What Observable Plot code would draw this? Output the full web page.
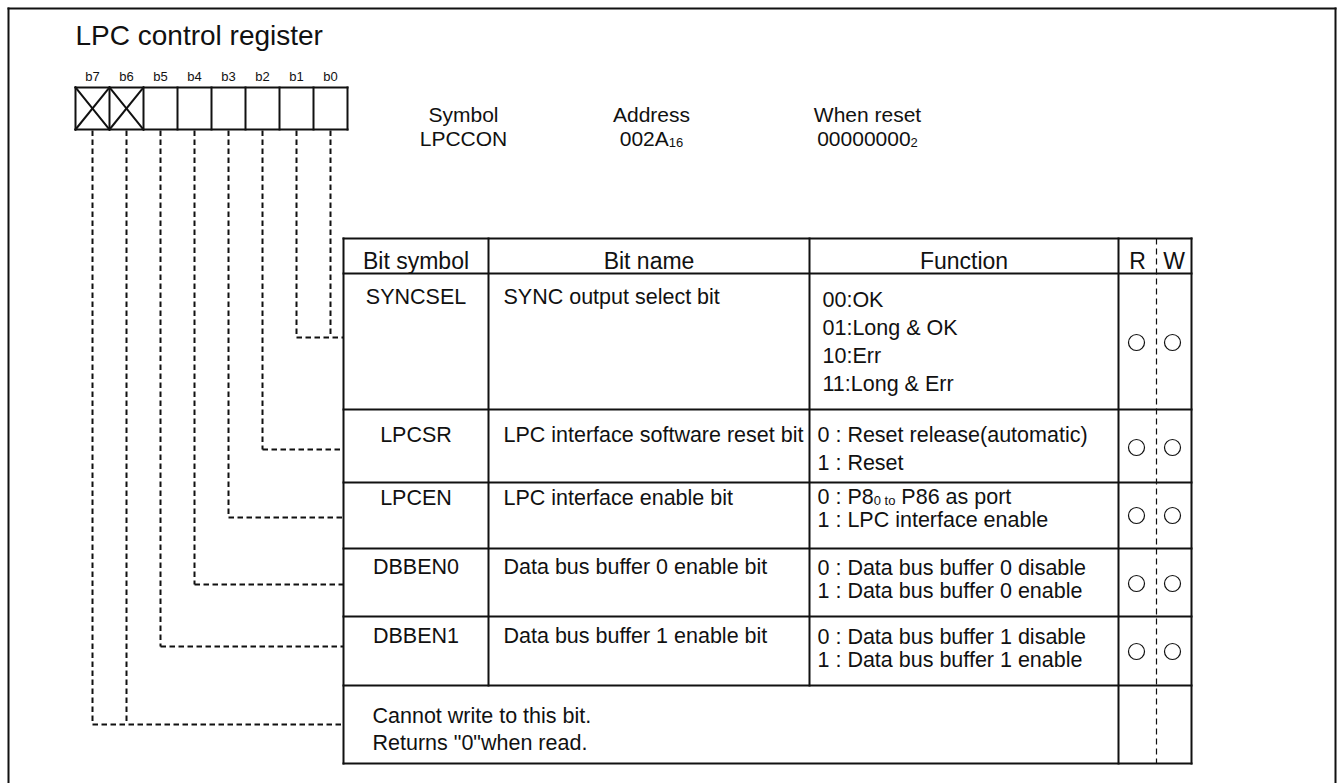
<!DOCTYPE html>
<html><head><meta charset="utf-8">
<script src="https://cdn.jsdelivr.net/npm/d3@7"></script>
<script src="https://cdn.jsdelivr.net/npm/@observablehq/plot@0.6"></script>
<style>html,body{margin:0;padding:0;background:#fff;} svg{display:block}</style>
</head><body><div id="chart"></div>
<script>
// ---------------- data ----------------
const title = "LPC control register";
const bits = ["b7","b6","b5","b4","b3","b2","b1","b0"];
const reservedBits = ["b7","b6"];
const infoHeads = ["Symbol","Address","When reset"];
const infoValues = ["LPCCON","002A","00000000"];
const infoSubs = ["","16","2"];
const headers = ["Bit symbol","Bit name","Function","R","W"];
const symbols = ["SYNCSEL","LPCSR","LPCEN","DBBEN0","DBBEN1",""];
const bitNames = ["SYNC output select bit","LPC interface software reset bit","LPC interface enable bit",
  "Data bus buffer 0 enable bit","Data bus buffer 1 enable bit",""];
// each line: list of [text, isSubscript]
const functions = [
  [[["00:OK"]],[["01:Long & OK"]],[["10:Err"]],[["11:Long & Err"]]],
  [[["0 : Reset release(automatic)"]],[["1 : Reset"]]],
  [[["0 : P8"],["0 to",1],[" P86 as port"]],[["1 : LPC interface enable"]]],
  [[["0 : Data bus buffer 0 disable"]],[["1 : Data bus buffer 0 enable"]]],
  [[["0 : Data bus buffer 1 disable"]],[["1 : Data bus buffer 1 enable"]]],
  []
];
const rowBits = [["b1","b0"],["b2"],["b3"],["b4"],["b5"],["b7","b6"]];
const readable = [1,1,1,1,1,0];
const writable = [1,1,1,1,1,0];
const note = ["Cannot write to this bit.","Returns \"0\"when read."];

// ---------------- layout ----------------
const W = 1339, H = 783;
const FONT = "Liberation Sans, Arial, Helvetica, sans-serif";
const L = {
  frame: {x0: 8, y0: 8, x1: 1335, y1: 800},
  title: {x: 75, y: 36, size: 28},
  box: {x0: 75, w: 34, y0: 87, y1: 129, labelY: 76, labelSize: 13},
  info: {cx: [463, 651, 867], headY: 115, valY: 139, size: 21, subSize: 13},
  cols: [343, 488, 809, 1118, 1156, 1191],
  rows: [238, 273, 409, 482, 548, 616, 685, 763],
  headY: 261, headSize: 23,
  bodySize: 21.5, subSize: 13,
  textY: [297, 435, 498, 567, 636],
  funcY: [[300, 328, 356, 384],[435, 463],[497, 520],[568, 591],[637, 660]],
  funcX: [822, 817, 817, 817, 817],
  nameX: 503,
  noteX: 372, noteY: [716, 743],
  circleY: [342, 447, 515, 583, 651], circleX: [1136, 1172], circleR: 8,
  connY: [337, 449, 517, 584, 646, 724]
};

const ctx = document.createElement("canvas").getContext("2d");
function tw(s, size){ ctx.font = `${size}px "Liberation Sans"`; return ctx.measureText(s).width; }

const textsStart = [], textsMiddle = [];
function rich(parts, x, y, size, subSize, anchor){
  const widths = parts.map(p => tw(p[0], p[1] ? subSize : size));
  const total = d3.sum(widths);
  let cur = anchor === "middle" ? x - total/2 : x;
  parts.forEach((p, i) => {
    const s = p[1] ? subSize : size;
    const lead = p[0].length - p[0].trimStart().length;
    const lx = cur + (lead ? tw(p[0].slice(0, lead), s) : 0);
    const yy = p[1] ? y + 0.32*size + 1 - 0.32*s : y;
    textsStart.push({x: lx, y: yy, text: p[0].trim(), size: s});
    cur += widths[i];
  });
}

// ---------- segments ----------
const solid = [], dashed = [], thin = [];
const F = L.frame;
solid.push({x1:F.x0,y1:F.y0,x2:F.x1,y2:F.y0},{x1:F.x0,y1:F.y0,x2:F.x0,y2:F.y1},{x1:F.x1,y1:F.y0,x2:F.x1,y2:F.y1});

// bit boxes
const B = L.box;
const bx = b => B.x0 + bits.indexOf(b)*B.w;
solid.push({x1:B.x0,y1:B.y0,x2:B.x0+bits.length*B.w,y2:B.y0});
solid.push({x1:B.x0,y1:B.y1,x2:B.x0+bits.length*B.w,y2:B.y1});
for (let i = 0; i <= bits.length; i++) solid.push({x1:B.x0+i*B.w,y1:B.y0,x2:B.x0+i*B.w,y2:B.y1});
reservedBits.forEach(b => {
  const x = bx(b);
  solid.push({x1:x,y1:B.y0,x2:x+B.w,y2:B.y1},{x1:x,y1:B.y1,x2:x+B.w,y2:B.y0});
});
bits.forEach(b => textsMiddle.push({x: bx(b)+B.w/2, y: B.labelY, text: b, size: B.labelSize}));

// table
const C = L.cols, R = L.rows;
const tTop = R[0], tBottom = R[R.length-1], lastTop = R[R.length-2];
R.forEach(y => solid.push({x1:C[0],y1:y,x2:C[5],y2:y}));
solid.push({x1:C[0],y1:tTop,x2:C[0],y2:tBottom});
solid.push({x1:C[5],y1:tTop,x2:C[5],y2:tBottom});
solid.push({x1:C[3],y1:tTop,x2:C[3],y2:tBottom});
solid.push({x1:C[1],y1:tTop,x2:C[1],y2:lastTop});
solid.push({x1:C[2],y1:tTop,x2:C[2],y2:lastTop});
thin.push({x1:C[4],y1:tTop,x2:C[4],y2:tBottom});

// connectors
rowBits.forEach((bs, i) => {
  const y = L.connY[i];
  const xs = bs.map(b => bx(b) + B.w/2);
  xs.forEach(x => dashed.push({x1:x,y1:B.y1+1,x2:x,y2:y}));
  dashed.push({x1:d3.min(xs),y1:y,x2:C[0],y2:y});
});

// texts
textsStart.push({x: L.title.x, y: L.title.y, text: title, size: L.title.size});
infoHeads.forEach((h, i) => textsMiddle.push({x: L.info.cx[i], y: L.info.headY, text: h, size: L.info.size}));
infoValues.forEach((v, i) => rich(infoSubs[i] ? [[v],[infoSubs[i],1]] : [[v]], L.info.cx[i], L.info.valY, L.info.size, L.info.subSize, "middle"));

const hc = [(C[0]+C[1])/2, (C[1]+C[2])/2, (C[2]+C[3])/2, (C[3]+C[4])/2, (C[4]+C[5])/2];
headers.forEach((h, i) => textsMiddle.push({x: hc[i], y: L.headY, text: h, size: L.headSize}));
symbols.forEach((s, i) => { if (s) textsMiddle.push({x: hc[0], y: L.textY[i], text: s, size: L.bodySize}); });
bitNames.forEach((s, i) => { if (s) textsStart.push({x: L.nameX, y: L.textY[i], text: s, size: L.bodySize}); });
functions.forEach((lines, i) => lines.forEach((parts, j) =>
  rich(parts, L.funcX[i], L.funcY[i][j], L.bodySize, L.subSize, "start")));
note.forEach((s, j) => textsStart.push({x: L.noteX, y: L.noteY[j], text: s, size: L.bodySize}));

const circles = [];
readable.forEach((r, i) => { if (r) circles.push({x: L.circleX[0], y: L.circleY[i]}); });
writable.forEach((w, i) => { if (w) circles.push({x: L.circleX[1], y: L.circleY[i]}); });

const plot = Plot.plot({
  width: W, height: H,
  marginTop: 0, marginRight: 0, marginBottom: 0, marginLeft: 0,
  x: {domain: [0, W], range: [0, W], axis: null},
  y: {domain: [0, H], range: [0, H], axis: null},
  style: {background: "#fff", fontFamily: FONT},
  marks: [
    Plot.link(solid, {x1:"x1", y1:"y1", x2:"x2", y2:"y2", stroke:"#111", strokeWidth: 2, strokeLinecap: "square"}),
    Plot.link(dashed, {x1:"x1", y1:"y1", x2:"x2", y2:"y2", stroke:"#111", strokeWidth: 2, strokeDasharray: "5.5,3.5"}),
    Plot.link(thin, {x1:"x1", y1:"y1", x2:"x2", y2:"y2", stroke:"#111", strokeWidth: 1.2, strokeDasharray: "6,4"}),
    Plot.dot(circles, {x:"x", y:"y", r: L.circleR, stroke:"#111", strokeWidth: 1.2, fill: "none"}),
    Plot.text(textsStart, {x:"x", y:"y", text:"text", fontSize: d => d.size, textAnchor:"start", fill:"#111", fontFamily: FONT}),
    Plot.text(textsMiddle, {x:"x", y:"y", text:"text", fontSize: d => d.size, textAnchor:"middle", fill:"#111", fontFamily: FONT})
  ]
});
document.getElementById("chart").appendChild(plot);
</script>
</body></html>
